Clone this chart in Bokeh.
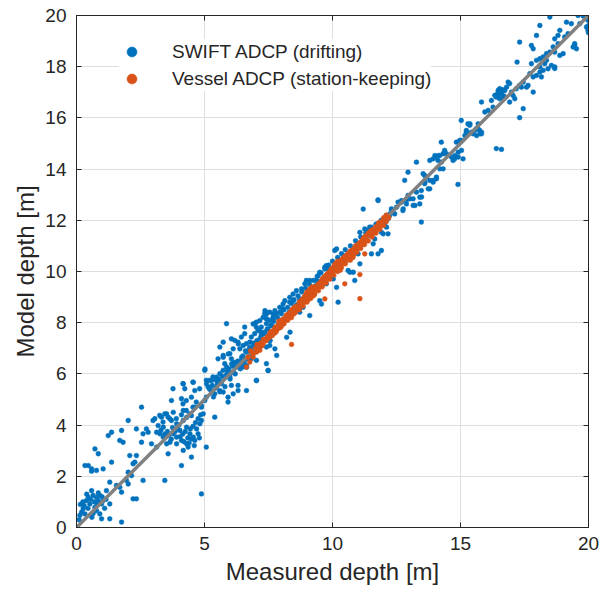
from bokeh.plotting import figure
from bokeh.models import LinearAxis, Legend, LegendItem, FixedTicker, Range1d
from bokeh.embed import file_html
from bokeh.resources import INLINE

# ---------------- data ----------------
x_ticks = [0, 5, 10, 15, 20]
y_ticks = [0, 2, 4, 6, 8, 10, 12, 14, 16, 18, 20]
one_to_one = [0, 20]

swift_shallow = [
    (0.2, 0.6), (0.26, 0.73), (0.39, 1.05), (0.46, 1.18), (0.59, 1.44), (0.65, 1.25), (0.78, 1.18),
    (0.85, 1.05), (0.91, 1.25), (0.98, 0.92), (1.04, 1.05), (0.52, 0.92), (0.72, 0.79), (0.33, 0.53),
    (0.13, 0.47), (0.91, 0.53), (0.78, 0.66), (1.3, 0.92), (1.76, 0.21), (0.33, 2.42), (0.46, 2.42),
    (0.59, 2.29), (0.59, 2.2), (0.78, 2.23), (1.04, 2.29), (1.37, 2.55), (0.72, 3.07), (0.85, 2.88),
    (1.24, 3.59), (1.37, 3.72), (1.76, 3.79), (1.69, 3.4), (1.82, 3.33), (2.08, 2.81), (2.28, 2.55),
    (2.21, 2.49), (2.02, 4.18), (2.54, 4.7), (2.34, 3.85), (2.6, 3.66), (2.73, 3.85), (2.8, 3.72),
    (2.02, 2.16), (2.08, 2.1), (2.15, 2.03), (1.95, 1.84), (2.02, 1.7), (1.56, 1.64), (1.69, 1.57),
    (1.76, 1.38), (2.21, 1.12), (2.34, 1.12), (2.6, 1.84), (3.45, 1.84), (2.54, 3.33), (2.93, 3.27),
    (3.13, 3.14), (2.34, 2.81), (1.3, 0.34), (0.98, 0.34), (1.17, 1.44), (1.3, 1.77),
    (0.1, 0.3), (0.3, 0.85), (0.45, 0.75), (0.55, 1.1), (0.7, 1.0), (0.85, 1.35), (1.0, 1.2),
    (1.1, 0.75), (0.65, 0.55), (0.25, 1.0), (0.4, 1.3), (1.15, 1.1), (0.8, 0.95), (0.6, 0.4), (0.15, 0.9),
]

swift_lower = [
    (2.99, 4.18), (3.19, 3.98), (3.32, 4.31), (3.39, 3.92), (3.52, 4.44), (3.65, 4.24), (3.78, 4.5),
    (3.91, 4.05), (4.04, 3.79), (4.17, 4.18), (4.3, 3.92), (4.43, 3.66), (4.56, 3.53), (4.69, 3.85),
    (4.82, 4.05), (3.91, 3.53), (3.78, 3.66), (3.52, 3.27), (3.58, 2.88), (4.1, 2.42), (4.1, 3.4),
    (4.3, 3.27), (4.49, 3.46), (4.62, 3.4), (4.75, 3.66), (4.88, 4.18), (4.95, 4.44), (4.17, 4.57),
    (4.49, 4.37), (4.62, 4.7), (4.88, 4.76), (3.26, 3.66), (3.13, 3.72), (3.39, 3.53), (3.65, 3.33),
    (3.91, 3.27), (4.17, 3.01), (4.36, 3.14), (4.49, 2.75), (4.88, 1.31), (5.07, 3.14),
    (3.6, 3.6), (3.7, 3.45), (3.85, 3.75), (3.95, 3.85), (4.05, 3.55), (4.15, 3.65), (4.25, 3.75),
    (4.35, 3.5), (4.45, 3.85), (4.55, 3.95), (4.65, 4.1), (4.75, 4.25), (4.85, 4.4), (3.75, 3.9),
    (4.0, 4.0), (4.2, 3.35), (4.4, 3.3), (3.55, 3.75), (3.3, 3.8), (3.45, 3.65), (4.6, 3.2),
    (4.8, 3.5), (4.3, 4.3), (4.1, 4.4), (3.9, 4.25),
    (3.06, 4.25), (3.25, 4.38), (3.45, 4.44), (3.58, 4.31), (3.71, 4.18), (3.38, 4.12),
]

swift_middle = [
    (3.77, 5.42), (3.71, 4.96), (4.16, 5.62), (4.23, 5.42), (4.1, 5.03), (4.16, 4.83), (4.29, 4.96),
    (4.49, 5.09), (4.55, 5.68), (4.62, 5.35), (4.81, 5.42), (4.68, 4.9), (4.88, 4.7), (5.01, 4.96),
    (5.07, 5.09), (5.14, 5.49), (4.29, 4.57), (4.42, 4.44), (4.55, 4.7), (5.01, 6.14), (5.4, 4.31),
    (5.07, 5.75), (5.2, 5.75), (5.33, 5.88), (5.46, 5.75), (5.6, 6.01), (5.73, 6.14), (5.86, 6.27),
    (5.66, 5.62), (5.27, 5.35), (5.4, 5.22), (5.6, 5.35), (5.73, 5.29), (5.92, 5.09), (6.12, 5.22),
    (5.92, 4.9), (5.53, 6.59), (5.73, 6.72), (5.99, 6.79), (6.05, 6.59), (6.31, 5.55), (6.31, 5.35),
    (6.64, 5.35), (6.05, 5.55), (5.79, 6.4), (5.92, 6.01), (5.99, 5.88), (6.12, 6.07), (6.25, 6.27),
    (6.38, 6.4), (6.38, 6.98), (6.51, 7.11), (6.64, 7.18), (6.77, 7.24), (6.31, 7.24), (6.44, 7.44),
    (6.57, 7.57), (6.77, 6.85), (6.9, 6.79), (7.03, 6.92), (7.03, 6.53), (6.83, 6.59), (7.16, 7.05),
    (7.03, 5.75), (7.48, 6.14), (7.42, 6.4), (6.64, 6.33), (6.51, 6.27), (6.83, 7.44), (6.96, 7.57),
    (7.09, 7.7), (7.22, 7.83), (7.35, 7.63), (7.48, 7.76), (7.61, 7.89), (6.57, 7.83), (6.96, 7.96),
    (7.22, 7.57), (7.42, 7.96), (7.55, 8.09), (7.68, 8.22), (7.81, 8.35), (7.35, 8.35), (7.42, 8.41),
    (5.86, 7.96), (7.42, 7.05), (7.55, 7.11), (7.55, 7.31), (6.05, 7.37), (6.18, 7.31), (5.73, 7.24),
    (5.6, 7.05),
    (4.17, 5.61), (4.56, 5.67), (5.02, 6.19), (5.08, 5.61), (5.28, 5.74), (5.47, 5.87), (5.73, 6.65),
    (5.93, 6.78), (6.12, 6.98), (6.32, 7.17), (6.64, 6.26), (7.03, 5.74), (7.49, 6.13), (6.06, 6.39),
    (6.25, 6.45), (6.45, 6.65), (6.64, 6.85), (6.77, 7.04), (6.97, 7.17), (7.03, 7.82), (7.43, 8.15),
    (7.69, 8.34), (7.95, 8.41), (7.36, 8.47), (7.16, 7.69), (7.3, 7.56), (7.56, 7.3), (7.75, 6.98),
    (7.82, 6.72), (8.21, 7.43), (8.34, 7.63),
    (5.2, 5.4), (5.35, 5.1), (5.5, 5.6), (5.6, 5.3), (5.7, 5.9), (5.8, 5.5), (5.9, 6.1), (6.0, 5.8),
    (6.1, 6.3), (6.2, 6.0), (6.3, 6.5), (6.4, 6.2), (6.5, 6.7), (6.55, 6.4), (6.6, 6.9), (6.7, 6.6),
    (6.8, 7.0), (6.85, 6.75), (6.9, 7.2), (7.0, 6.9), (7.05, 7.3), (7.1, 7.05), (7.2, 7.45),
    (7.25, 7.2), (7.3, 7.6), (7.4, 7.35), (7.45, 7.75), (7.5, 7.5), (7.6, 7.9), (7.65, 7.6),
    (7.7, 8.05), (7.8, 7.75), (7.85, 8.2), (7.9, 7.95), (8.0, 8.35), (8.05, 8.1), (8.1, 8.5),
    (8.2, 8.25), (8.25, 8.6), (8.3, 8.4), (8.4, 8.75), (8.45, 8.5), (8.5, 8.9), (8.6, 8.7),
    (8.65, 9.05), (8.75, 8.85), (8.8, 9.2), (8.9, 9.0), (8.95, 9.35), (9.05, 9.15), (9.1, 9.5),
    (9.2, 9.3), (9.25, 9.65), (9.35, 9.45), (9.4, 9.8), (9.5, 9.6), (9.55, 9.95), (9.65, 9.75),
    (9.7, 10.1), (9.8, 9.9), (9.85, 10.25), (9.95, 10.05), (10.0, 10.4), (10.1, 10.2), (10.2, 10.55),
    (10.3, 10.35), (10.35, 10.7), (10.45, 10.5), (10.5, 10.85), (10.6, 10.65), (10.7, 11.0),
    (10.8, 10.8), (10.9, 11.2), (11.0, 11.0), (11.1, 11.35), (11.2, 11.2), (11.3, 11.5), (11.4, 11.4),
    (11.5, 11.7), (11.6, 11.55), (11.7, 11.85), (11.8, 11.75), (11.9, 12.0), (12.0, 11.9),
    (11.2, 12.44), (11.78, 12.77), (11.07, 11.53), (11.26, 11.66), (11.39, 11.6), (11.52, 11.73),
    (11.65, 11.53), (11.91, 11.53), (12.11, 11.73), (11.98, 11.47), (11.2, 11.08), (11.59, 11.08),
    (11.65, 11.27), (11.52, 10.69), (11.78, 10.69), (11.91, 10.82), (12.17, 11.47), (10.16, 10.88),
    (10.09, 10.82), (10.42, 10.62), (11.0, 10.69), (11.07, 10.3), (10.61, 10.04), (10.68, 9.97),
    (10.81, 9.97), (10.87, 9.65), (10.22, 8.8), (9.76, 10.23), (9.7, 10.17), (9.83, 10.1), (9.5, 9.97),
    (9.44, 9.84), (9.37, 9.65), (9.11, 9.65), (8.98, 9.65), (8.92, 9.52), (8.79, 9.32), (8.59, 9.25),
    (8.46, 9.12), (8.33, 8.99), (8.14, 8.86), (8.07, 8.73), (7.94, 8.6), (7.75, 8.47), (7.55, 8.41),
    (7.42, 8.34), (7.29, 8.21), (7.16, 8.08), (7.03, 8.02), (6.9, 7.95), (7.42, 8.15), (7.68, 8.15),
    (8.07, 8.54), (8.33, 8.8), (8.46, 8.86), (8.72, 8.93), (9.05, 8.99), (9.11, 9.25), (9.37, 9.38),
    (9.57, 9.45), (9.76, 9.52), (10.03, 9.71), (10.16, 9.38), (9.5, 8.86), (9.57, 8.73), (9.11, 8.28),
    (8.85, 8.6), (8.72, 8.41),
    (5.3, 5.55), (5.45, 5.45), (5.55, 5.8), (5.65, 5.7), (5.85, 5.95), (5.95, 6.2), (6.05, 6.05),
    (6.15, 6.45), (6.35, 6.3), (6.45, 6.55), (6.6, 6.55), (6.75, 6.95), (6.95, 7.1), (7.15, 7.35),
]

swift_upper = [
    (15.03, 15.9), (15.29, 15.77), (15.23, 15.44), (14.25, 15.05), (14.84, 15.05), (15.03, 15.12),
    (14.38, 14.73), (14.32, 14.6), (14.19, 14.53), (14.06, 14.47), (13.93, 14.4), (14.12, 14.34),
    (14.25, 14.27), (13.8, 14.34), (14.64, 14.47), (14.77, 14.4), (14.71, 14.34), (15.1, 14.4),
    (13.28, 14.27), (12.95, 13.88), (12.82, 13.56), (13.6, 13.75), (13.67, 13.69), (13.8, 13.56),
    (13.93, 13.56), (14.06, 13.62), (14.19, 14.01), (14.32, 14.01), (14.06, 13.69), (13.8, 13.23),
    (13.6, 13.43), (13.47, 13.16), (13.28, 13.1), (13.15, 12.84), (13.41, 12.9), (12.95, 12.97),
    (12.88, 12.77), (12.75, 12.38), (13.15, 12.58), (13.47, 11.93), (12.3, 12.45), (12.36, 12.32),
    (11.78, 12.8), (14.9, 13.4), (12.56, 12.71), (12.69, 12.77), (13.02, 12.84), (12.17, 12.06),
    (12.04, 11.86), (11.45, 11.73), (12.23, 12.19), (12.43, 12.25),
    (14.0, 14.53), (14.13, 14.53), (14.45, 14.6), (14.78, 14.53), (14.91, 14.47), (14.91, 14.66),
    (15.04, 14.73), (14.97, 15.12), (15.17, 15.31), (15.3, 15.38), (15.43, 15.44), (15.56, 15.51),
    (15.69, 15.77), (15.37, 15.77), (15.63, 15.31), (15.76, 15.38), (15.82, 15.44), (15.69, 15.57),
    (13.54, 13.82), (13.61, 13.49), (13.93, 13.49), (13.74, 13.23), (13.48, 12.91), (13.41, 12.64),
    (13.22, 12.58), (12.89, 12.64), (12.7, 12.71), (12.76, 12.45), (12.5, 12.51), (12.31, 12.38),
    (12.11, 12.19), (12.24, 12.25),
]

swift_deep = [
    (15.23, 15.51), (15.36, 15.71), (15.49, 15.38), (15.62, 15.58), (15.75, 15.51), (15.82, 15.38),
    (15.82, 16.62), (15.95, 16.23), (16.08, 16.29), (16.27, 16.42), (16.21, 16.68), (16.34, 16.88),
    (16.47, 17.07), (16.53, 17.14), (16.6, 16.94), (16.66, 16.75), (16.53, 16.75), (16.4, 16.81),
    (16.73, 17.07), (16.8, 17.2), (16.86, 17.4), (16.92, 17.34), (16.99, 17.01), (17.05, 16.88),
    (17.12, 16.75), (16.92, 16.62), (17.18, 17.14), (17.31, 17.27), (17.45, 16.36), (17.31, 16.01),
    (17.38, 17.2), (17.58, 17.2), (17.64, 17.27), (17.84, 17.01), (17.45, 17.4), (16.4, 14.8),
    (16.6, 14.77), (17.21, 18.18), (17.77, 18.12), (17.97, 18.25), (18.1, 18.31), (18.23, 18.38),
    (18.36, 18.51), (18.49, 18.57), (18.68, 18.57), (18.29, 18.12), (18.1, 17.99), (18.23, 17.86),
    (18.42, 17.92), (18.55, 18.05), (18.68, 17.99), (18.36, 18.25), (17.97, 17.66), (18.16, 17.6),
    (18.1, 17.79), (17.84, 17.6), (17.71, 17.73), (17.31, 18.96), (17.77, 18.83), (17.84, 18.7),
    (17.97, 19.22), (18.1, 19.61), (18.49, 19.94), (18.68, 19.09), (18.81, 19.22), (18.88, 19.42),
    (19.07, 19.16), (19.2, 19.29), (19.33, 19.68), (19.14, 19.74), (19.4, 18.77), (19.53, 18.7),
    (19.46, 18.9), (19.01, 18.51), (18.81, 18.9), (18.62, 18.77), (19.59, 20.0), (19.79, 19.98),
    (19.92, 19.94), (19.98, 19.81), (19.98, 19.42), (19.92, 19.55), (19.66, 19.68), (20.0, 19.6),
    (20.0, 19.33), (19.46, 18.83), (18.88, 18.44), (18.68, 17.93),
    (16.5, 16.9), (16.6, 17.0), (16.45, 16.95), (16.7, 16.85), (16.55, 17.05), (16.65, 17.1),
]

vessel_band = [
    (6.64, 6.27), (6.77, 6.46), (6.9, 6.66), (7.03, 6.85), (7.16, 6.92), (7.22, 7.11), (7.29, 7.18),
    (7.42, 7.31), (7.55, 7.44), (7.68, 7.57), (7.81, 7.7), (7.87, 7.83),
    (6.7, 6.65), (6.8, 6.9), (6.9, 6.8), (7.0, 7.0), (7.05, 7.15), (7.1, 6.95), (7.2, 7.2),
    (7.25, 7.1), (7.3, 7.35), (7.4, 7.3), (7.45, 7.45), (7.5, 7.4), (7.55, 7.6), (7.6, 7.5),
    (7.7, 7.7), (7.75, 7.6), (7.8, 7.85), (7.85, 7.75), (7.9, 7.9), (7.95, 8.0), (8.0, 7.85),
    (8.05, 8.1), (8.1, 8.0), (8.15, 8.2), (8.2, 8.1), (8.25, 8.3), (8.3, 8.2), (8.35, 8.4),
    (8.4, 8.3), (8.45, 8.45), (8.5, 8.35), (8.55, 8.55), (8.6, 8.5), (8.65, 8.6), (8.7, 8.55),
    (8.75, 8.75), (8.8, 8.7), (8.85, 8.85), (8.9, 8.8), (8.95, 8.95), (9.0, 8.85), (9.05, 9.05),
    (9.1, 8.95), (9.15, 9.15), (9.2, 9.05), (9.25, 9.25), (9.3, 9.15), (9.35, 9.35), (9.4, 9.3),
    (9.45, 9.5), (9.5, 9.4), (9.55, 9.6), (9.6, 9.5), (9.65, 9.75), (9.7, 9.6), (9.75, 9.85),
    (9.8, 9.7), (9.85, 9.95), (9.9, 9.85), (9.95, 10.1), (10.0, 9.95), (10.05, 10.2), (10.1, 10.05),
    (10.15, 10.3), (10.2, 10.15), (10.25, 10.35), (10.3, 10.2), (10.35, 10.45), (10.4, 10.3),
    (10.45, 10.55), (10.5, 10.4), (10.55, 10.6), (10.6, 10.5), (10.65, 10.7), (10.7, 10.6),
    (10.75, 10.8), (10.8, 10.7), (10.85, 10.9), (10.9, 10.8), (10.95, 11.0), (11.0, 10.9),
    (11.05, 11.1), (11.1, 11.0), (11.15, 11.2), (11.2, 11.1), (11.3, 11.3), (11.35, 11.2),
    (11.4, 11.45), (11.5, 11.4), (11.55, 11.55), (11.6, 11.5), (11.7, 11.7), (11.75, 11.65),
    (11.8, 11.85), (11.9, 11.8), (12.0, 12.0), (12.1, 11.95), (12.2, 12.1),
    (9.0, 9.2), (9.1, 9.3), (9.2, 9.4), (9.05, 8.9), (9.25, 9.05), (8.95, 9.1),
    (10.1, 10.3), (10.2, 10.4), (10.3, 10.05), (10.7, 10.45), (10.8, 10.55), (10.85, 10.7),
]

vessel_upper_edge = [
    (7.6, 7.65), (7.75, 7.8), (7.9, 8.05), (8.0, 8.1), (8.1, 8.15), (8.2, 8.3), (8.3, 8.35),
    (8.4, 8.5), (8.5, 8.6), (8.6, 8.65), (8.7, 8.8), (8.8, 8.9), (8.9, 9.0), (9.0, 9.1), (9.1, 9.2),
    (9.2, 9.25), (9.3, 9.4), (9.4, 9.45), (9.5, 9.55), (9.6, 9.7), (9.7, 9.8), (9.8, 9.9),
    (9.9, 10.0), (10.0, 10.1), (10.1, 10.15), (10.2, 10.3), (10.3, 10.4), (10.4, 10.5),
    (10.5, 10.6), (10.6, 10.7), (10.7, 10.8), (10.8, 10.85), (10.9, 11.0), (11.0, 11.05),
    (11.1, 11.15), (11.2, 11.3), (11.3, 11.4), (11.4, 11.5), (11.5, 11.6), (11.6, 11.65),
    (11.7, 11.75), (11.8, 11.9), (11.9, 11.95), (12.0, 12.1), (12.1, 12.2),
]

vessel_lower_edge = [
    (7.65, 7.5), (7.8, 7.65), (7.95, 7.8), (8.1, 7.95), (8.25, 8.1), (8.4, 8.2), (8.55, 8.4),
    (8.7, 8.5), (8.85, 8.65), (9.0, 8.8), (9.15, 8.95), (9.3, 9.1), (9.45, 9.25), (9.6, 9.4),
    (9.75, 9.55), (9.9, 9.7), (10.05, 9.85), (10.2, 10.0), (10.35, 10.15), (10.5, 10.3),
    (10.65, 10.45), (10.8, 10.6), (10.95, 10.75), (11.1, 10.9), (11.25, 11.05), (11.4, 11.2),
    (11.55, 11.35), (11.7, 11.5), (11.85, 11.65), (12.0, 11.8),
]

vessel_outliers = [
    (11.26, 10.69), (11.07, 9.88), (10.48, 9.52), (11.07, 8.94), (8.4, 7.15), (9.7, 8.93),
]

swift_pts = swift_shallow + swift_lower + swift_middle + swift_upper + swift_deep
vessel_pts = vessel_band + vessel_upper_edge + vessel_lower_edge + vessel_outliers
swift_x = [pt[0] for pt in swift_pts]
swift_y = [pt[1] for pt in swift_pts]
vessel_x = [pt[0] for pt in vessel_pts]
vessel_y = [pt[1] for pt in vessel_pts]

# ---------------- styling ----------------
FONT = "Liberation Sans"
AX = "#262626"
BLUE = "#0072BD"
ORANGE = "#D95319"

p = figure(frame_width=512, frame_height=512,
           x_range=Range1d(0, 20), y_range=Range1d(0, 20),
           output_backend="svg", toolbar_location=None,
           min_border_left=76, min_border_right=14,
           min_border_top=15, min_border_bottom=71,
           background_fill_color="white", border_fill_color="white")
p.outline_line_color = AX

p.xaxis.ticker = FixedTicker(ticks=x_ticks)
p.yaxis.ticker = FixedTicker(ticks=y_ticks)
p.xgrid.ticker = FixedTicker(ticks=x_ticks)
p.ygrid.ticker = FixedTicker(ticks=y_ticks)
for g in (p.xgrid, p.ygrid):
    g.grid_line_color = "#dedede"
    g.grid_line_width = 1

p.xaxis.axis_label = "Measured depth [m]"
p.yaxis.axis_label = "Model depth [m]"

for ax in (p.xaxis[0], p.yaxis[0]):
    ax.axis_line_color = AX
    ax.major_tick_line_color = AX
    ax.major_tick_in = 5
    ax.major_tick_out = 0
    ax.minor_tick_line_color = None
    ax.major_label_text_font = FONT
    ax.major_label_text_font_size = "19px"
    ax.major_label_text_color = AX
    ax.axis_label_text_font = FONT
    ax.axis_label_text_font_size = "24px"
    ax.axis_label_text_font_style = "normal"
    ax.axis_label_text_color = AX
p.xaxis.major_label_standoff = 9
p.yaxis.major_label_standoff = 10
p.xaxis.axis_label_standoff = 5
p.yaxis.axis_label_standoff = 3

top = LinearAxis(ticker=FixedTicker(ticks=x_ticks), major_label_text_font_size="1px",
                 major_label_text_color=None,
                 major_label_standoff=0, major_tick_in=5, major_tick_out=0,
                 minor_tick_line_color=None, axis_line_color=AX, major_tick_line_color=AX)
right = LinearAxis(ticker=FixedTicker(ticks=y_ticks), major_label_text_font_size="1px",
                   major_label_text_color=None,
                   major_label_standoff=0, major_tick_in=5, major_tick_out=0,
                   minor_tick_line_color=None, axis_line_color=AX, major_tick_line_color=AX)
p.add_layout(top, "above")
p.add_layout(right, "right")

r_swift = p.scatter(swift_x, swift_y, size=4.8, fill_color=BLUE, line_color=BLUE, line_width=0.5)
p.line(one_to_one, one_to_one, line_color="#808080", line_width=3.5)
r_vessel = p.scatter(vessel_x, vessel_y, size=4.8, fill_color=ORANGE, line_color=ORANGE, line_width=0.5)

legend = Legend(items=[LegendItem(label="SWIFT ADCP (drifting)", renderers=[r_swift]),
                       LegendItem(label="Vessel ADCP (station-keeping)", renderers=[r_vessel])],
                location=(43, 436), border_line_color=None, background_fill_color="white",
                background_fill_alpha=1.0, glyph_width=25, glyph_height=25, spacing=2,
                padding=5, margin=0, label_standoff=28, label_text_font=FONT,
                label_text_font_size="19px", label_text_color=AX)
p.add_layout(legend)

open("out.html", "w").write(file_html(p, INLINE))
